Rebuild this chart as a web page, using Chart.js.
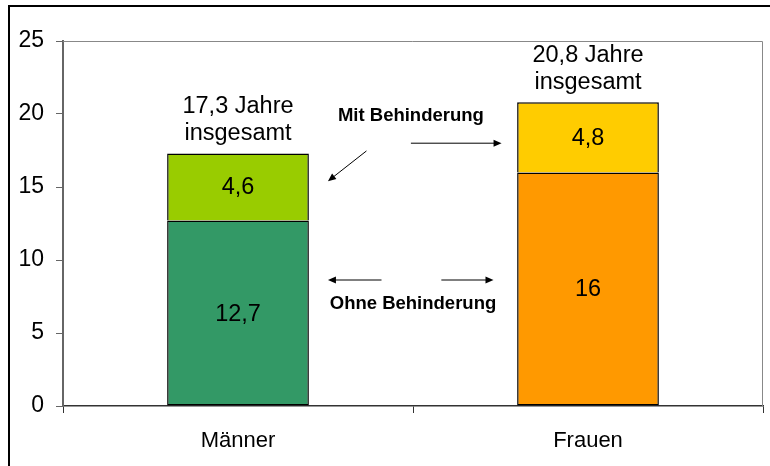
<!DOCTYPE html>
<html><head><meta charset="utf-8">
<script src="https://cdn.jsdelivr.net/npm/chart.js@4"></script>
<style>
html,body{margin:0;padding:0;background:#fff;overflow:hidden;}
#wrap{position:relative;width:770px;height:466px;}
#frame{position:absolute;left:8px;top:5px;width:900px;height:600px;border:2px solid #000;box-sizing:border-box;pointer-events:none;}
canvas{position:absolute;left:0;top:0;}
</style></head>
<body>
<div id="wrap"><canvas id="c" width="770" height="466"></canvas><div id="frame"></div></div>
<script>
const categories = ['Männer', 'Frauen'];
const seriesNames = ['Ohne Behinderung', 'Mit Behinderung'];
const ohneBehinderung = [12.7, 16];
const mitBehinderung = [4.6, 4.8];
const ohneColors = ['#339966', '#FF9900'];
const mitColors = ['#99CC00', '#FFCC00'];
const yTickValues = [0, 5, 10, 15, 20, 25];

const fmt = v => String(Math.round(v * 10) / 10).replace('.', ',');
const FONT = '"Liberation Sans", Arial, sans-serif';

const annot = {
  id: 'annot',
  afterDatasetsDraw(chart) {
    const ctx = chart.ctx;
    const xs = chart.scales.x, ys = chart.scales.y;
    const x0 = xs.getPixelForValue(0), x1 = xs.getPixelForValue(1);
    const X = v => x0 + (x1 - x0) * v;
    const Y = v => ys.getPixelForValue(v);
    ctx.save();
    ctx.fillStyle = '#000';
    ctx.textAlign = 'center';
    ctx.textBaseline = 'middle';
    ctx.font = '23.5px ' + FONT;
    chart.data.datasets.forEach((ds, di) => {
      chart.getDatasetMeta(di).data.forEach((el, i) => {
        ctx.fillText(fmt(ds.data[i]), el.x, (el.y + el.base) / 2 + 1);
      });
    });
    const top = chart.getDatasetMeta(1).data;
    top.forEach((el, i) => {
      const tot = ohneBehinderung[i] + mitBehinderung[i];
      ctx.fillText(fmt(tot) + ' Jahre', el.x, el.y - 47);
      ctx.fillText('insgesamt', el.x, el.y - 20);
    });
    ctx.font = 'bold 18.5px ' + FONT;
    ctx.fillText(seriesNames[1], X(0.494), Y(19.86));
    ctx.fillText(seriesNames[0], X(0.5), Y(6.99));
    const arrow = (xa, ya, xb, yb) => {
      const ax = X(xa), ay = Y(ya), bx = X(xb), by = Y(yb);
      const ang = Math.atan2(by - ay, bx - ax);
      ctx.strokeStyle = '#000'; ctx.lineWidth = 1;
      ctx.beginPath(); ctx.moveTo(ax, ay);
      ctx.lineTo(bx - 6 * Math.cos(ang), by - 6 * Math.sin(ang)); ctx.stroke();
      ctx.beginPath();
      ctx.moveTo(bx, by);
      ctx.lineTo(bx - 8 * Math.cos(ang) + 3.5 * Math.sin(ang), by - 8 * Math.sin(ang) - 3.5 * Math.cos(ang));
      ctx.lineTo(bx - 8 * Math.cos(ang) - 3.5 * Math.sin(ang), by - 8 * Math.sin(ang) + 3.5 * Math.cos(ang));
      ctx.closePath(); ctx.fill();
    };
    arrow(0.367, 17.47, 0.257, 15.4);
    arrow(0.494, 18.0, 0.753, 18.0);
    arrow(0.41, 8.63, 0.257, 8.63);
    arrow(0.581, 8.63, 0.73, 8.63);
    ctx.restore();
  },
  beforeDatasetsDraw(chart) {
    const a = chart.chartArea, ctx = chart.ctx;
    ctx.save();
    ctx.strokeStyle = '#888'; ctx.lineWidth = 1;
    ctx.beginPath();
    ctx.moveTo(a.left, a.top + 0.5); ctx.lineTo(a.right - 0.5, a.top + 0.5); ctx.lineTo(a.right - 0.5, a.bottom);
    ctx.stroke();
    ctx.restore();
  }
};

new Chart(document.getElementById('c'), {
  type: 'bar',
  data: {
    labels: categories,
    datasets: [
      { label: seriesNames[0], data: ohneBehinderung, backgroundColor: ohneColors, borderColor: '#000', borderWidth: 1.5, borderSkipped: false, barPercentage: 0.405, categoryPercentage: 1 },
      { label: seriesNames[1], data: mitBehinderung, backgroundColor: mitColors, borderColor: '#000', borderWidth: 1.5, borderSkipped: 'bottom', barPercentage: 0.405, categoryPercentage: 1 }
    ]
  },
  options: {
    responsive: false,
    animation: false,
    layout: { padding: { left: 0, top: 41, right: 7, bottom: 0 } },
    plugins: { legend: { display: false }, tooltip: { enabled: false } },
    scales: {
      x: {
        stacked: true,
        grid: { offset: true, drawOnChartArea: false, drawTicks: true, tickLength: 7, color: '#333', lineWidth: 1 },
        border: { display: true, color: '#333', width: 1.5 },
        ticks: { color: '#000', font: { family: FONT, size: 22 }, padding: 15 },
        afterFit(s) { s.height = 60; }
      },
      y: {
        stacked: true, min: 0, max: 25,
        afterBuildTicks(s) { s.ticks = yTickValues.map(v => ({ value: v })); },
        grid: { drawOnChartArea: false, drawTicks: true, tickLength: 7, color: '#666', lineWidth: 1 },
        border: { display: true, color: '#666', width: 2 },
        ticks: { color: '#000', font: { family: FONT, size: 23 }, padding: 12 },
        afterFit(s) { s.width = 63; }
      }
    }
  },
  plugins: [annot]
});
</script>
</body></html>
